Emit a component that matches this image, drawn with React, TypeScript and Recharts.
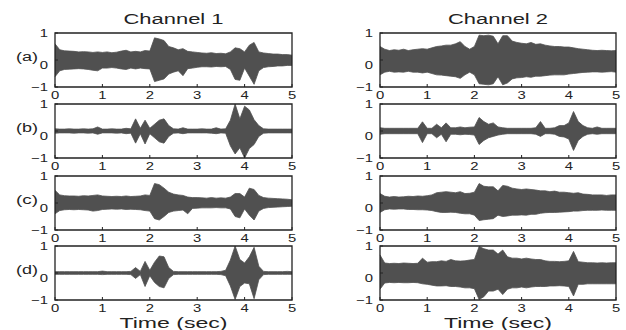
import { ComposedChart, Area, XAxis, YAxis, ReferenceArea } from "recharts"

// sample times (sec), one envelope reading every 0.1 s
const TIME = [
  0, 0.1, 0.2, 0.3, 0.4, 0.5, 0.6, 0.7, 0.8, 0.9,
  1, 1.1, 1.2, 1.3, 1.4, 1.5, 1.6, 1.7, 1.8, 1.9,
  2, 2.1, 2.2, 2.3, 2.4, 2.5, 2.6, 2.7, 2.8, 2.9,
  3, 3.1, 3.2, 3.3, 3.4, 3.5, 3.6, 3.7, 3.8, 3.9,
  4, 4.1, 4.2, 4.3, 4.4, 4.5, 4.6, 4.7, 4.8, 4.9, 5,
]
const X_TICKS = [0, 1, 2, 3, 4, 5]
const Y_TICKS = [-1, 0, 1]
const PANEL_LABELS = ["(a)", "(b)", "(c)", "(d)"]
const CHANNEL_TITLES = ["Channel 1", "Channel 2"]
const X_LABEL = "Time (sec)"

// waveform envelopes (upper / lower)
const A1_HI = [0.6, 0.38, 0.34, 0.33, 0.32, 0.3, 0.31, 0.3, 0.28, 0.3, 0.28, 0.3, 0.27, 0.29, 0.33, 0.36, 0.3, 0.32, 0.3, 0.35, 0.33, 0.82, 0.78, 0.72, 0.5, 0.45, 0.38, 0.42, 0.32, 0.3, 0.28, 0.26, 0.25, 0.27, 0.24, 0.25, 0.23, 0.3, 0.45, 0.42, 0.3, 0.55, 0.65, 0.3, 0.26, 0.24, 0.22, 0.22, 0.2, 0.2, 0.18]
const A1_LO = [-0.62, -0.4, -0.35, -0.34, -0.33, -0.32, -0.33, -0.35, -0.38, -0.4, -0.3, -0.3, -0.28, -0.3, -0.33, -0.35, -0.3, -0.33, -0.3, -0.32, -0.33, -0.8, -0.75, -0.7, -0.52, -0.45, -0.4, -0.58, -0.32, -0.3, -0.27, -0.25, -0.25, -0.26, -0.24, -0.25, -0.24, -0.35, -0.72, -0.75, -0.3, -0.6, -0.9, -0.4, -0.28, -0.25, -0.24, -0.22, -0.22, -0.2, -0.2]
const A2_HI = [0.5, 0.4, 0.35, 0.38, 0.36, 0.4, 0.35, 0.38, 0.4, 0.42, 0.4, 0.45, 0.5, 0.52, 0.55, 0.55, 0.6, 0.68, 0.5, 0.4, 0.5, 0.92, 0.9, 0.92, 0.88, 0.6, 0.9, 0.9, 0.7, 0.65, 0.62, 0.6, 0.65, 0.58, 0.6, 0.55, 0.52, 0.5, 0.5, 0.48, 0.48, 0.45, 0.42, 0.4, 0.38, 0.36, 0.35, 0.36, 0.35, 0.34, 0.35]
const A2_LO = [-0.55, -0.45, -0.42, -0.45, -0.44, -0.45, -0.42, -0.45, -0.45, -0.48, -0.45, -0.5, -0.55, -0.56, -0.58, -0.6, -0.62, -0.68, -0.55, -0.45, -0.55, -0.88, -0.9, -0.92, -0.88, -0.62, -0.92, -0.85, -0.7, -0.66, -0.65, -0.62, -0.64, -0.6, -0.6, -0.58, -0.56, -0.55, -0.55, -0.55, -0.52, -0.5, -0.48, -0.46, -0.45, -0.44, -0.44, -0.45, -0.44, -0.43, -0.45]
const B1_HI = [0.08, 0.07, 0.07, 0.08, 0.07, 0.07, 0.08, 0.07, 0.08, 0.15, 0.07, 0.07, 0.08, 0.07, 0.07, 0.1, 0.08, 0.45, 0.1, 0.4, 0.1, 0.25, 0.4, 0.45, 0.2, 0.08, 0.07, 0.12, 0.07, 0.07, 0.07, 0.08, 0.07, 0.07, 0.12, 0.07, 0.08, 0.4, 1.0, 0.45, 0.92, 0.78, 0.42, 0.2, 0.08, 0.07, 0.07, 0.07, 0.07, 0.07, 0.07]
const B1_LO = [-0.08, -0.07, -0.07, -0.07, -0.08, -0.07, -0.07, -0.08, -0.07, -0.12, -0.07, -0.07, -0.07, -0.08, -0.07, -0.1, -0.08, -0.45, -0.1, -0.48, -0.1, -0.25, -0.4, -0.45, -0.2, -0.08, -0.07, -0.1, -0.07, -0.07, -0.07, -0.07, -0.07, -0.08, -0.1, -0.07, -0.08, -0.55, -0.85, -0.62, -1.0, -0.65, -0.5, -0.2, -0.08, -0.07, -0.07, -0.07, -0.07, -0.07, -0.07]
const B2_HI = [0.12, 0.1, 0.1, 0.1, 0.1, 0.1, 0.1, 0.1, 0.1, 0.34, 0.1, 0.1, 0.25, 0.12, 0.3, 0.12, 0.12, 0.15, 0.12, 0.14, 0.15, 0.5, 0.35, 0.25, 0.3, 0.15, 0.12, 0.1, 0.1, 0.1, 0.1, 0.1, 0.1, 0.12, 0.35, 0.1, 0.1, 0.12, 0.2, 0.2, 0.3, 0.72, 0.35, 0.2, 0.12, 0.1, 0.15, 0.1, 0.1, 0.1, 0.1]
const B2_LO = [-0.12, -0.1, -0.1, -0.1, -0.1, -0.1, -0.1, -0.1, -0.1, -0.43, -0.1, -0.1, -0.25, -0.12, -0.4, -0.12, -0.12, -0.14, -0.12, -0.13, -0.15, -0.5, -0.35, -0.25, -0.2, -0.15, -0.12, -0.1, -0.1, -0.1, -0.1, -0.1, -0.1, -0.12, -0.2, -0.1, -0.1, -0.12, -0.2, -0.22, -0.3, -0.72, -0.35, -0.2, -0.12, -0.1, -0.12, -0.1, -0.1, -0.1, -0.1]
const C1_HI = [0.47, 0.3, 0.27, 0.26, 0.26, 0.25, 0.27, 0.26, 0.28, 0.3, 0.26, 0.25, 0.24, 0.25, 0.24, 0.26, 0.24, 0.25, 0.26, 0.3, 0.28, 0.72, 0.68, 0.55, 0.4, 0.33, 0.3, 0.28, 0.22, 0.2, 0.2, 0.19, 0.18, 0.2, 0.18, 0.19, 0.18, 0.22, 0.35, 0.35, 0.22, 0.55, 0.5, 0.28, 0.2, 0.18, 0.17, 0.16, 0.15, 0.14, 0.12]
const C1_LO = [-0.4, -0.28, -0.25, -0.24, -0.25, -0.24, -0.25, -0.26, -0.3, -0.28, -0.24, -0.23, -0.22, -0.23, -0.22, -0.24, -0.23, -0.24, -0.25, -0.28, -0.3, -0.58, -0.63, -0.5, -0.35, -0.3, -0.28, -0.26, -0.4, -0.2, -0.19, -0.18, -0.18, -0.18, -0.17, -0.18, -0.18, -0.22, -0.5, -0.55, -0.22, -0.45, -0.63, -0.3, -0.2, -0.17, -0.16, -0.15, -0.14, -0.13, -0.12]
const C2_HI = [0.35, 0.25, 0.22, 0.24, 0.22, 0.23, 0.25, 0.24, 0.26, 0.25, 0.27, 0.3, 0.38, 0.4, 0.42, 0.4, 0.38, 0.42, 0.35, 0.36, 0.4, 0.72, 0.62, 0.6, 0.6, 0.45, 0.65, 0.62, 0.55, 0.52, 0.5, 0.52, 0.5, 0.48, 0.45, 0.45, 0.42, 0.44, 0.4, 0.4, 0.38, 0.36, 0.38, 0.33, 0.32, 0.3, 0.3, 0.3, 0.28, 0.3, 0.3]
const C2_LO = [-0.35, -0.25, -0.22, -0.23, -0.22, -0.22, -0.24, -0.24, -0.25, -0.25, -0.26, -0.28, -0.32, -0.35, -0.35, -0.34, -0.35, -0.38, -0.4, -0.4, -0.45, -0.65, -0.62, -0.6, -0.58, -0.45, -0.5, -0.48, -0.45, -0.45, -0.44, -0.45, -0.42, -0.42, -0.38, -0.36, -0.35, -0.35, -0.34, -0.33, -0.32, -0.3, -0.3, -0.28, -0.27, -0.27, -0.27, -0.26, -0.27, -0.27, -0.27]
const D1_HI = [0.05, 0.05, 0.05, 0.05, 0.05, 0.05, 0.05, 0.05, 0.05, 0.05, 0.07, 0.05, 0.05, 0.05, 0.05, 0.05, 0.06, 0.2, 0.06, 0.43, 0.1, 0.4, 0.63, 0.6, 0.2, 0.06, 0.05, 0.05, 0.05, 0.05, 0.05, 0.05, 0.05, 0.05, 0.05, 0.06, 0.1, 0.48, 1.0, 0.5, 0.37, 0.6, 0.95, 0.25, 0.06, 0.05, 0.05, 0.05, 0.05, 0.06, 0.05]
const D1_LO = [-0.05, -0.05, -0.05, -0.05, -0.05, -0.05, -0.05, -0.05, -0.05, -0.05, -0.06, -0.05, -0.05, -0.05, -0.05, -0.05, -0.06, -0.2, -0.06, -0.5, -0.1, -0.35, -0.5, -0.55, -0.2, -0.06, -0.05, -0.05, -0.05, -0.05, -0.05, -0.05, -0.05, -0.05, -0.05, -0.06, -0.1, -0.48, -0.98, -0.5, -0.37, -0.4, -0.95, -0.25, -0.06, -0.05, -0.05, -0.05, -0.05, -0.05, -0.05]
const D2_HI = [0.67, 0.37, 0.35, 0.36, 0.35, 0.37, 0.36, 0.35, 0.36, 0.55, 0.4, 0.42, 0.42, 0.45, 0.43, 0.5, 0.45, 0.44, 0.45, 0.48, 0.5, 0.98, 0.9, 0.85, 0.85, 0.7, 0.85, 0.6, 0.55, 0.55, 0.52, 0.55, 0.52, 0.5, 0.5, 0.45, 0.43, 0.43, 0.42, 0.43, 0.45, 0.8, 0.42, 0.4, 0.38, 0.38, 0.37, 0.38, 0.37, 0.38, 0.38]
const D2_LO = [-0.6, -0.37, -0.35, -0.36, -0.35, -0.36, -0.36, -0.35, -0.36, -0.4, -0.42, -0.45, -0.48, -0.48, -0.47, -0.5, -0.5, -0.52, -0.55, -0.55, -0.58, -0.98, -0.88, -0.67, -0.67, -0.6, -0.8, -0.6, -0.55, -0.55, -0.52, -0.55, -0.52, -0.5, -0.5, -0.5, -0.48, -0.48, -0.47, -0.48, -0.5, -0.85, -0.42, -0.42, -0.4, -0.4, -0.4, -0.4, -0.4, -0.4, -0.4]

// [row][channel] -> [upper, lower]
const ENVELOPES = [
  [[A1_HI, A1_LO], [A2_HI, A2_LO]],
  [[B1_HI, B1_LO], [B2_HI, B2_LO]],
  [[C1_HI, C1_LO], [C2_HI, C2_LO]],
  [[D1_HI, D1_LO], [D2_HI, D2_LO]],
]

const ROW_TOP = [33, 104, 176, 246]
const PLOT_H = 54
const COLS = [
  { left: 55, width: 237 },
  { left: 380, width: 236 },
]
const AXIS_W = 40
const TOP_PAD = 5
const RIGHT_PAD = 10
const X_AXIS_H = 24
const WAVE = "#505050"
const INK = "#222"
const FONT = "'Liberation Sans', Arial, Helvetica, sans-serif"

function XTick({ x, y, payload }: any) {
  return (
    <text
      transform={`translate(${x},${y + 9}) scale(1.35,1)`}
      textAnchor="middle"
      fontSize={11}
      fontFamily={FONT}
      fill={INK}
    >
      {payload.value}
    </text>
  )
}

function YTick({ x, y, payload }: any) {
  const v = payload.value
  const label = v < 0 ? `\u2212${-v}` : `${v}`
  const dy = v === 0 ? 9 : 4
  return (
    <text
      transform={`translate(${x},${y + dy}) scale(1.35,1)`}
      textAnchor="end"
      fontSize={11}
      fontFamily={FONT}
      fill={INK}
    >
      {label}
    </text>
  )
}

const noLabel = () => ""

function Panel({ hi, lo, left, top, width }: { hi: number[]; lo: number[]; left: number; top: number; width: number }) {
  const data = TIME.map((t, i) => ({ t, env: [lo[i], hi[i]] }))
  return (
    <div style={{ position: "absolute", left: left - AXIS_W, top: top - TOP_PAD }}>
      <ComposedChart
        width={AXIS_W + width + RIGHT_PAD}
        height={TOP_PAD + PLOT_H + X_AXIS_H}
        data={data}
        margin={{ top: TOP_PAD, right: RIGHT_PAD, left: 0, bottom: 0 }}
      >
        <XAxis
          dataKey="t"
          type="number"
          domain={[0, 5]}
          ticks={X_TICKS}
          height={X_AXIS_H}
          axisLine={false}
          tickSize={-3}
          tickMargin={6}
          tickLine={{ stroke: INK }}
          tick={<XTick />}
          interval={0}
        />
        <XAxis
          xAxisId="top"
          dataKey="t"
          type="number"
          orientation="top"
          domain={[0, 5]}
          ticks={X_TICKS}
          height={0}
          axisLine={false}
          tickSize={-3}
          tickLine={{ stroke: INK }}
          tickFormatter={noLabel}
          interval={0}
        />
        <YAxis
          type="number"
          domain={[-1, 1]}
          ticks={Y_TICKS}
          width={AXIS_W}
          axisLine={false}
          tickSize={-3}
          tickMargin={10}
          tickLine={{ stroke: INK }}
          tick={<YTick />}
          allowDataOverflow
          interval={0}
        />
        <YAxis
          yAxisId="r"
          type="number"
          orientation="right"
          domain={[-1, 1]}
          ticks={Y_TICKS}
          width={0}
          axisLine={false}
          tickSize={-3}
          tickLine={{ stroke: INK }}
          tickFormatter={noLabel}
          interval={0}
        />
        <Area
          type="linear"
          dataKey="env"
          stroke={WAVE}
          strokeWidth={0.8}
          fill={WAVE}
          fillOpacity={1}
          dot={false}
          activeDot={false}
          isAnimationActive={false}
        />
        <ReferenceArea x1={0} x2={5} y1={-1} y2={1} fill="none" stroke={INK} strokeWidth={1.3} ifOverflow="visible" />
      </ComposedChart>
    </div>
  )
}

export default function App() {
  return (
    <div
      style={{
        position: "absolute",
        left: 0,
        top: 0,
        width: 626,
        height: 330,
        background: "#fff",
        overflow: "hidden",
        fontFamily: FONT,
      }}
    >
      {ENVELOPES.map((row, r) =>
        row.map(([hi, lo], c) => (
          <Panel key={`${r}-${c}`} hi={hi} lo={lo} left={COLS[c].left} top={ROW_TOP[r]} width={COLS[c].width} />
        ))
      )}
      {/* titles, panel letters and x labels, stretched wide like the original */}
      <svg width={626} height={330} style={{ position: "absolute", left: 0, top: 0, pointerEvents: "none" }}>
        {CHANNEL_TITLES.map((title, c) => (
          <text
            key={title}
            x={COLS[c].left + COLS[c].width / 2}
            y={24}
            textAnchor="middle"
            fontSize={14}
            fontFamily={FONT}
            fill={INK}
            textLength={100}
            lengthAdjust="spacingAndGlyphs"
          >
            {title}
          </text>
        ))}
        {PANEL_LABELS.map((label, r) => (
          <text
            key={label}
            x={16}
            y={ROW_TOP[r] + 28}
            fontSize={12.5}
            fontFamily={FONT}
            fill={INK}
            textLength={22}
            lengthAdjust="spacingAndGlyphs"
          >
            {label}
          </text>
        ))}
        {COLS.map((col, c) => (
          <text
            key={`xl-${c}`}
            x={col.left + col.width / 2}
            y={328}
            textAnchor="middle"
            fontSize={14}
            fontFamily={FONT}
            fill={INK}
            textLength={108}
            lengthAdjust="spacingAndGlyphs"
          >
            {X_LABEL}
          </text>
        ))}
      </svg>
    </div>
  )
}
